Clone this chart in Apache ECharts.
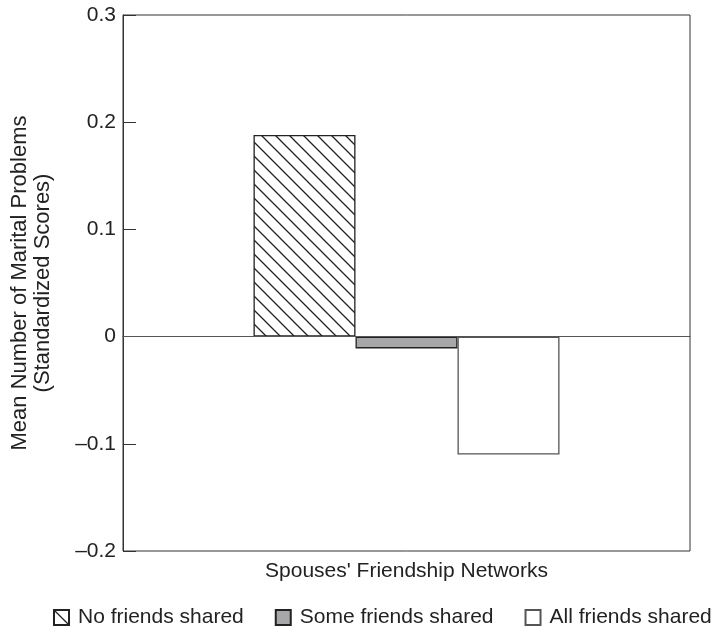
<!DOCTYPE html>
<html>
<head>
<meta charset="utf-8">
<script src="https://cdn.jsdelivr.net/npm/echarts@6/dist/echarts.min.js"></script>
<style>html,body{margin:0;padding:0;background:#fff;}#c{width:719px;height:631px;}</style>
</head>
<body>
<div id="c"></div>
<script>
const categories = ["Spouses' Friendship Networks"];
const seriesNames = ['No friends shared', 'Some friends shared', 'All friends shared'];
const noFriendsShared = [0.188];
const someFriendsShared = [-0.011];
const allFriendsShared = [-0.11];
const yTicks = { min: -0.2, max: 0.3, interval: 0.1 };

function hatch() {
  const s = 14;
  const c = document.createElement('canvas');
  c.width = s; c.height = s;
  const g = c.getContext('2d');
  g.fillStyle = '#fff'; g.fillRect(0, 0, s, s);
  g.strokeStyle = '#222'; g.lineWidth = 1.3;
  g.beginPath();
  g.moveTo(-2, -2); g.lineTo(s + 2, s + 2);
  g.moveTo(-2, s - 2); g.lineTo(2, s + 2);
  g.moveTo(s - 2, -2); g.lineTo(s + 2, 2);
  g.stroke();
  return c;
}

const font = "'Liberation Sans', Arial, Helvetica, sans-serif";
const chart = echarts.init(document.getElementById('c'));
chart.setOption({
  animation: false,
  textStyle: { fontFamily: font, color: '#222' },
  grid: { left: 119, right: 29, top: 15, bottom: 80, show: true, borderColor: '#333', borderWidth: 1, backgroundColor: 'transparent' },
  legend: {
    left: 53, top: 607, width: 666, padding: 0, itemWidth: 15, itemHeight: 15, itemGap: 31,
    textStyle: { fontSize: 21, color: '#222', fontFamily: font, padding: [0, 0, 0, 4] },
    data: seriesNames.map(n => ({ name: n, icon: 'rect' }))
  },
  xAxis: {
    type: 'category', data: categories,
    axisLine: { lineStyle: { color: '#333', width: 1 } },
    axisTick: { inside: true, alignWithLabel: true, length: 12, lineStyle: { color: '#333' } },
    axisLabel: { fontSize: 21, color: '#222', margin: 10, fontFamily: font },
    splitLine: { show: false }
  },
  yAxis: {
    type: 'value', min: yTicks.min, max: yTicks.max, interval: yTicks.interval,
    name: 'Mean Number of Marital Problems\n(Standardized Scores)',
    nameLocation: 'middle', nameGap: 69,
    nameTextStyle: { fontSize: 22, color: '#222', lineHeight: 23, fontFamily: font },
    axisLine: { show: true, lineStyle: { color: '#333', width: 1 } },
    axisTick: { show: true, inside: true, length: 13, lineStyle: { color: '#333' } },
    axisLabel: {
      fontSize: 21, color: '#222', margin: 7, fontFamily: font,
      formatter: v => Math.abs(v) < 1e-9 ? '0' : (v < 0 ? '\u2013' : '') + Math.abs(v).toFixed(1)
    },
    splitLine: { show: false }
  },
  series: [
    {
      name: seriesNames[0], type: 'bar', data: noFriendsShared, barWidth: 102, barGap: '0%',
      itemStyle: { color: { image: hatch(), repeat: 'repeat' }, borderColor: '#222', borderWidth: 1.3 },
      markLine: {
        silent: true, symbol: 'none', label: { show: false },
        lineStyle: { color: '#555', width: 1, type: 'solid' },
        data: [{ yAxis: 0 }]
      }
    },
    {
      name: seriesNames[1], type: 'bar', data: someFriendsShared, barWidth: 102, barGap: '0%',
      itemStyle: { color: '#a7a7aa', borderColor: '#222', borderWidth: 1.3 }
    },
    {
      name: seriesNames[2], type: 'bar', data: allFriendsShared, barWidth: 102, barGap: '0%',
      itemStyle: { color: '#ffffff', borderColor: '#555', borderWidth: 1.3 }
    }
  ]
});
</script>
</body>
</html>
